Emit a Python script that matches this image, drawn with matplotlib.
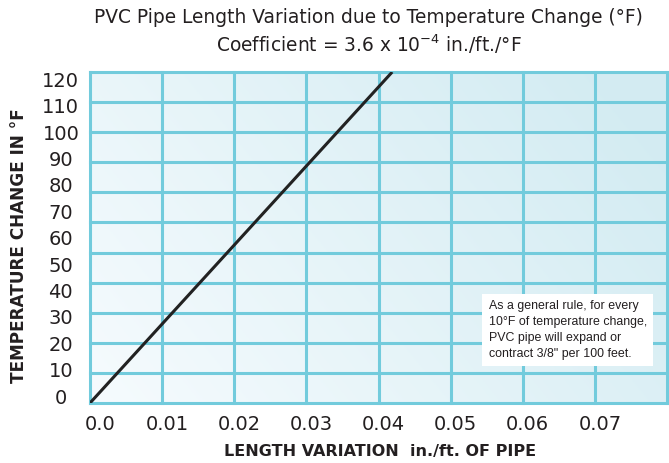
import numpy as np
import matplotlib
matplotlib.use("Agg")
import matplotlib.pyplot as plt
from matplotlib.transforms import ScaledTranslation

# values
x_ticks = [0.0, 0.01, 0.02, 0.03, 0.04, 0.05, 0.06, 0.07]
x_tick_labels = ["0.0", "0.01", "0.02", "0.03", "0.04", "0.05", "0.06", "0.07"]
x_grid = [0.0, 0.01, 0.02, 0.03, 0.04, 0.05, 0.06, 0.07, 0.08]
y_ticks = [0, 10, 20, 30, 40, 50, 60, 70, 80, 90, 100, 110, 120]
n_rows = 11  # the horizontal grid has 11 rows, not tied to the tick labels
# the drawn line runs from the lower left corner up to the top edge
length_var = [0.0, 0.0419]
temp_change = [-2.6, 122.8]

grid_color = "#72CBDC"
text_color = "#231F20"

fig = plt.figure(figsize=(6.69, 4.63), dpi=100)
ax = fig.add_axes([90 / 669, 60 / 463, 577 / 669, 331 / 463])
ax.set_xlim(0, 0.08)
ax.set_ylim(-2.6, 122.8)

# soft diagonal gradient behind the grid
gx, gy = np.meshgrid(np.linspace(0, 1, 200), np.linspace(0, 1, 200))
t = np.clip(0.75 * gx + 0.35 * gy, 0, 1)[:, :, None]
c0 = np.array([0.965, 0.985, 0.995])
c1 = np.array([0.83, 0.925, 0.95])
img = c0 * (1 - t) + c1 * t
ax.imshow(img, extent=[0, 1, 0, 1], transform=ax.transAxes, origin="lower",
          aspect="auto", zorder=0)

# grid
for gxv in x_grid:
    ax.axvline(gxv, color=grid_color, lw=2.2, zorder=1, clip_on=False)
for k in range(n_rows + 1):
    ax.plot([0, 1], [k / n_rows, k / n_rows], transform=ax.transAxes,
            color=grid_color, lw=2.2, zorder=1, clip_on=False)
for s in ax.spines.values():
    s.set_visible(False)

ax.plot(length_var, temp_change, color="#222222", lw=2.2, zorder=3,
        solid_capstyle="butt")

ax.set_xticks(x_ticks)
ax.set_xticklabels(x_tick_labels, fontsize=14, color=text_color)
ax.set_yticks(y_ticks)
ax.set_yticklabels([str(v) for v in y_ticks], fontsize=14, color=text_color,
                   ha="center")
ax.tick_params(axis="both", length=0)
ax.tick_params(axis="x", pad=9)
ax.tick_params(axis="y", pad=21)
for i, lab in enumerate(ax.get_xticklabels()):
    dx = 10 if i == 0 else 5
    lab.set_transform(lab.get_transform() + ScaledTranslation(dx / 100, 0, fig.dpi_scale_trans))

ax.set_xlabel("LENGTH VARIATION  in./ft. OF PIPE", fontsize=11.5, fontweight="bold",
              color=text_color)
ax.xaxis.set_label_coords(0.502, -0.125)
ax.set_ylabel("TEMPERATURE CHANGE IN °F", fontsize=12.2, fontweight="bold",
              color=text_color)
ax.yaxis.set_label_coords(-0.108, 0.474)

fig.text(0.551, 0.962, "PVC Pipe Length Variation due to Temperature Change (°F)",
         ha="center", va="center", fontsize=13.4, color=text_color)
fig.text(0.551, 0.905, "Coefficient = 3.6 x 10$^{-4}$ in./ft./°F",
         ha="center", va="center", fontsize=13.4, color=text_color)

ax.text(0.691, 0.31,
        "As a general rule, for every\n10°F of temperature change,\n"
        "PVC pipe will expand or\ncontract 3/8\" per 100 feet.",
        transform=ax.transAxes, fontsize=8.9, family="Liberation Sans",
        color=text_color, va="top", ha="left", linespacing=1.42, zorder=4,
        bbox=dict(facecolor="white", edgecolor="none", pad=4.5))

fig.savefig("out.png", dpi=100)
